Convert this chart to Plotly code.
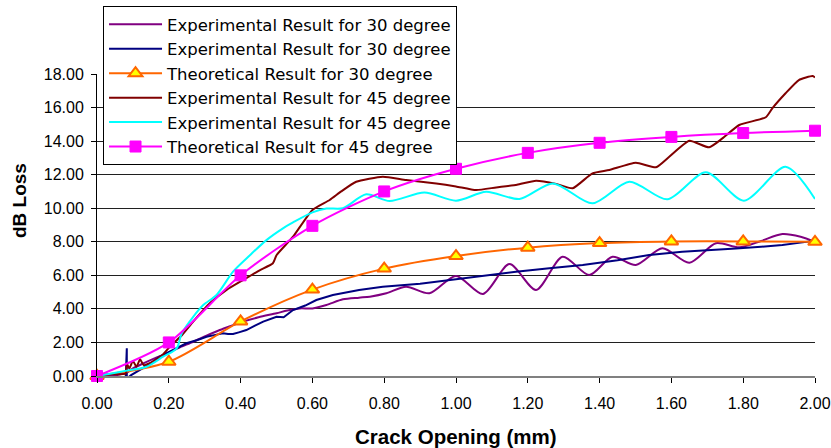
import plotly.graph_objects as go

# ---------------- data ----------------
names = [
    "Experimental Result for 30 degree",
    "Experimental Result for 30 degree",
    "Theoretical Result for 30 degree",
    "Experimental Result for 45 degree",
    "Experimental Result for 45 degree",
    "Theoretical Result for 45 degree",
]

exp30a_x = [0, 0.03, 0.06, 0.083, 0.1, 0.129, 0.16, 0.194, 0.23, 0.268, 0.305, 0.342, 0.375, 0.407,
            0.45, 0.5, 0.53, 0.565, 0.6, 0.639, 0.685, 0.73, 0.76, 0.806, 0.861, 0.926, 1.0, 1.075,
            1.149, 1.223, 1.297, 1.371, 1.436, 1.501, 1.575, 1.65, 1.724, 1.789, 1.85, 1.909, 1.96, 2.0]
exp30a_y = [0, 0.03, 0.08, 0.2, 0.45, 0.75, 1.05, 1.35, 1.7, 2.04, 2.4, 2.74, 3.0, 3.24,
            3.5, 3.74, 3.9, 4.03, 4.03, 4.23, 4.57, 4.67, 4.73, 4.93, 5.32, 4.93, 5.96, 4.89,
            6.67, 5.13, 7.11, 6.02, 7.11, 6.62, 7.61, 6.75, 7.91, 7.67, 8.05, 8.46, 8.3, 8.0]

exp30b_x = [0, 0.02, 0.05, 0.08, 0.083, 0.083, 0.086, 0.095, 0.12, 0.15, 0.175, 0.21, 0.249, 0.28,
            0.305, 0.33, 0.351, 0.365, 0.379, 0.395, 0.416, 0.44, 0.463, 0.5, 0.52, 0.546, 0.58,
            0.611, 0.657, 0.73, 0.796, 0.9, 0.982, 1.08, 1.167, 1.26, 1.353, 1.45, 1.538, 1.63,
            1.724, 1.78, 1.85, 1.909, 1.96, 2.0]
exp30b_y = [0, -0.05, -0.1, -0.1, 1.65, -0.1, -0.1, 0.05, 0.36, 0.75, 1.15, 1.55, 1.95, 2.15,
            2.34, 2.45, 2.54, 2.5, 2.5, 2.6, 2.74, 3.0, 3.24, 3.53, 3.5, 3.93, 4.2,
            4.53, 4.83, 5.13, 5.32, 5.5, 5.72, 5.95, 6.22, 6.42, 6.62, 6.9, 7.21, 7.4,
            7.55, 7.6, 7.7, 7.81, 7.95, 8.06]

theo30_x = [0, 0.2, 0.4, 0.6, 0.8, 1.0, 1.2, 1.4, 1.6, 1.8, 2.0]
theo30_y = [0, 0.85, 3.25, 5.15, 6.4, 7.15, 7.65, 7.92, 8.02, 8.02, 8.0]

exp45a_x = [0, 0.04, 0.08, 0.083, 0.09, 0.1, 0.11, 0.12, 0.13, 0.15, 0.18, 0.203, 0.235, 0.268,
            0.314, 0.361, 0.407, 0.453, 0.49, 0.5, 0.546, 0.6, 0.648, 0.68, 0.722, 0.796, 0.861,
            0.945, 1.0, 1.056, 1.112, 1.17, 1.223, 1.279, 1.325, 1.38, 1.427, 1.501, 1.557, 1.594,
            1.65, 1.705, 1.742, 1.789, 1.863, 1.881, 1.918, 1.955, 1.993, 2.0]
exp45a_y = [0, 0.1, 0.15, 0.75, 0.45, 0.9, 0.55, 1.0, 0.65, 0.8, 1.2, 1.75, 2.4, 3.24,
            4.33, 5.13, 5.72, 6.3, 6.72, 7.2, 8.3, 9.9, 10.49, 11.0, 11.58, 11.88, 11.68,
            11.48, 11.3, 11.08, 11.24, 11.4, 11.64, 11.45, 11.19, 12.08, 12.28, 12.71, 12.44, 13.07,
            14.02, 13.63, 14.16, 14.96, 15.42, 15.95, 16.85, 17.64, 17.88, 17.8]

exp45b_x = [0, 0.04, 0.083, 0.138, 0.184, 0.222, 0.236, 0.268, 0.296, 0.333, 0.379, 0.426, 0.472,
            0.518, 0.546, 0.6, 0.639, 0.685, 0.75, 0.815, 0.912, 1.0, 1.084, 1.177, 1.27, 1.38,
            1.483, 1.589, 1.696, 1.802, 1.918, 2.0]
exp45b_y = [0, 0.15, 0.32, 0.55, 1.15, 1.65, 2.54, 3.53, 4.23, 4.83, 6.22, 7.2, 8.1,
            8.8, 9.15, 9.75, 9.98, 10.0, 10.83, 10.43, 10.93, 10.45, 10.98, 10.55, 11.48, 10.29,
            11.58, 10.53, 12.14, 10.45, 12.47, 10.55]

theo45_x = [0, 0.2, 0.4, 0.6, 0.8, 1.0, 1.2, 1.4, 1.6, 1.8, 2.0]
theo45_y = [0, 2.0, 6.0, 8.95, 11.0, 12.35, 13.3, 13.9, 14.25, 14.48, 14.62]

x_ticks = [0, 0.2, 0.4, 0.6, 0.8, 1.0, 1.2, 1.4, 1.6, 1.8, 2.0]
y_ticks = [0, 2, 4, 6, 8, 10, 12, 14, 16, 18]

x_title = "Crack Opening (mm)"
y_title = "dB Loss"

FONT = "Arial, Liberation Sans, sans-serif"
LEG_FONT = "DejaVu Sans, Arial, sans-serif"

fig = go.Figure()
fig.add_trace(go.Scatter(x=exp30a_x, y=exp30a_y, name=names[0], mode="lines",
                         line=dict(color="#800080", width=2, shape="spline", smoothing=0.8)))
fig.add_trace(go.Scatter(x=exp30b_x, y=exp30b_y, name=names[1], mode="lines",
                         line=dict(color="#000080", width=2)))
fig.add_trace(go.Scatter(x=theo30_x, y=theo30_y, name=names[2], mode="lines+markers",
                         cliponaxis=False,
                         line=dict(color="#FF6600", width=2, shape="spline", smoothing=0.8),
                         marker=dict(symbol="triangle-up", size=12, color="#FFFF00",
                                     line=dict(color="#FF6600", width=2))))
fig.add_trace(go.Scatter(x=exp45a_x, y=exp45a_y, name=names[3], mode="lines",
                         line=dict(color="#800000", width=2, shape="spline", smoothing=0.5)))
fig.add_trace(go.Scatter(x=exp45b_x, y=exp45b_y, name=names[4], mode="lines",
                         line=dict(color="#00FFFF", width=2, shape="spline", smoothing=0.8)))
fig.add_trace(go.Scatter(x=theo45_x, y=theo45_y, name=names[5], mode="lines+markers",
                         cliponaxis=False,
                         line=dict(color="#FF00FF", width=2, shape="spline", smoothing=0.8),
                         marker=dict(symbol="square", size=11, color="#FF00FF",
                                     line=dict(color="#FF00FF", width=1))))

fig.update_layout(
    width=831, height=448,
    margin=dict(l=97, r=16, t=74, b=72, autoexpand=False),
    paper_bgcolor="white", plot_bgcolor="white",
    font=dict(family=FONT, size=16, color="black"),
    showlegend=True,
    legend=dict(x=0.0084, y=1.225, xanchor="left", yanchor="top",
                bgcolor="white", bordercolor="black", borderwidth=1,
                font=dict(family=LEG_FONT, size=16.5, color="black"),
                tracegroupgap=0, itemwidth=53),
    xaxis=dict(range=[0, 2], tickvals=x_ticks, tickformat=".2f", automargin=False,
               showgrid=False, zeroline=False,
               showline=True, linecolor="#808080", linewidth=2,
               ticks="outside", ticklen=5, tickcolor="black", tickwidth=1,
               ticklabelstandoff=7,
               tickfont=dict(family=FONT, size=16)),
    yaxis=dict(range=[0, 18], tickvals=y_ticks, tickformat=".2f", automargin=False,
               showgrid=True, gridcolor="#202020", gridwidth=1, zeroline=False,
               showline=True, linecolor="black", linewidth=1,
               ticks="outside", ticklen=5, tickcolor="black", tickwidth=1,
               ticklabelstandoff=4,
               tickfont=dict(family=FONT, size=16)),
    annotations=[
        dict(text="<b>%s</b>" % x_title, xref="paper", yref="paper",
             x=0.5, y=-0.2, xanchor="center", yanchor="middle", showarrow=False,
             font=dict(family=FONT, size=20.5, color="black")),
        dict(text="<b>%s</b>" % y_title, xref="paper", yref="paper",
             x=-0.107, y=0.58, xanchor="center", yanchor="middle", showarrow=False,
             textangle=-90, font=dict(family=FONT, size=19, color="black")),
    ],
)

fig.write_html("out.html")
